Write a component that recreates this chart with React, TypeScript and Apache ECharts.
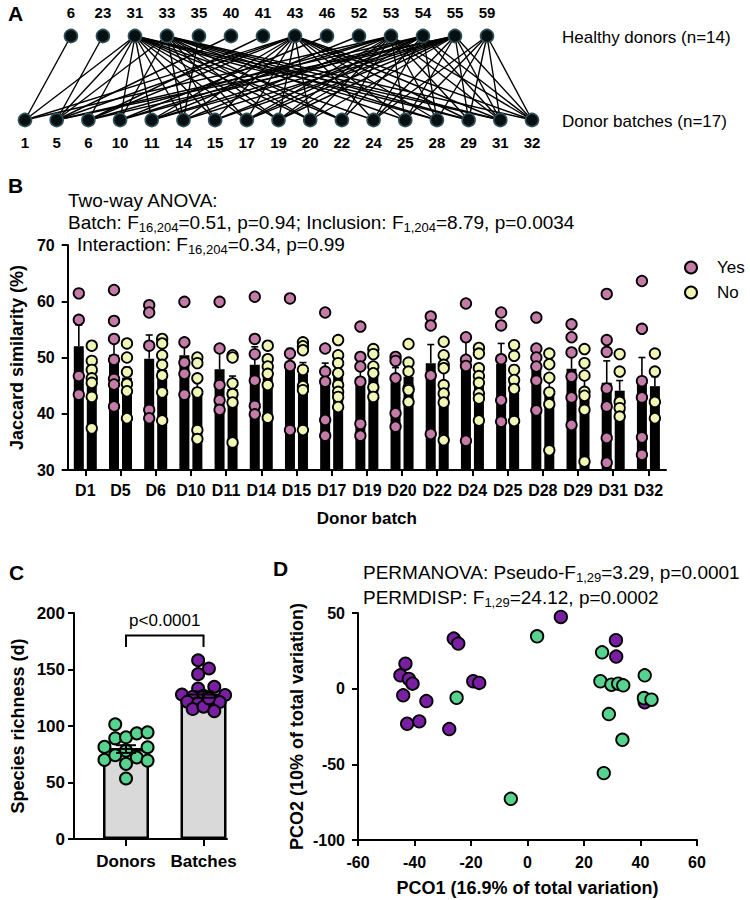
import React, { useEffect, useRef } from 'react';
import * as echarts from 'echarts';

const FONT = '"Liberation Sans", Arial, Helvetica, sans-serif';

// ---------- Panel A: donor / batch network ----------
const donorIds = ['6', '23', '31', '33', '35', '40', '41', '43', '46', '52', '53', '54', '55', '59'];
const batchIds = ['1', '5', '6', '10', '11', '14', '15', '17', '19', '20', '22', '24', '25', '28', '29', '31', '32'];
const batchLinks = [
  ['6', '31', '43', '53'],
  ['23', '31', '33', '40', '43', '54', '55'],
  ['31', '41', '43', '53', '55'],
  ['31', '33', '46', '53', '54'],
  ['31', '43', '52', '54', '55'],
  ['31', '33', '35', '43', '53', '55'],
  ['31', '33', '43', '54', '55'],
  ['31', '33', '43', '53', '54', '55'],
  ['31', '33', '43', '53', '54', '55'],
  ['31', '33', '43', '53', '55'],
  ['31', '33', '53', '54'],
  ['31', '43', '54', '55', '59'],
  ['33', '43', '53', '55', '59'],
  ['31', '33', '43', '53', '54', '59'],
  ['31', '33', '43', '53', '55', '59'],
  ['31', '33', '43', '53', '54', '55', '59'],
  ['33', '43', '53', '54', '55', '59'],
];

// ---------- Panel B: Jaccard similarity ----------
const batchLabels = ['D1', 'D5', 'D6', 'D10', 'D11', 'D14', 'D15', 'D17', 'D19', 'D20', 'D22', 'D24', 'D25', 'D28', 'D29', 'D31', 'D32'];
const yesMean = [52.0, 50.5, 49.8, 50.4, 47.9, 48.7, 49.2, 46.3, 45.7, 45.6, 49.0, 49.3, 48.9, 48.9, 48.0, 45.5, 46.0];
const yesSem = [3.8, 2.9, 4.2, 2.6, 3.9, 3.2, 2.4, 2.7, 3.0, 2.6, 3.3, 3.5, 3.6, 2.3, 2.6, 3.9, 4.0];
const noMean = [45.9, 46.4, 47.8, 43.6, 44.4, 46.9, 47.1, 46.6, 47.6, 46.6, 45.8, 46.0, 46.6, 44.2, 43.8, 44.1, 44.9];
const noSem = [1.6, 1.9, 1.9, 2.4, 2.3, 1.8, 2.0, 1.4, 1.3, 1.5, 2.0, 1.5, 2.0, 2.5, 2.4, 1.8, 1.7];
const yesPts = [
  [61.4, 56.7, 46.7, 43.4],
  [62.0, 56.5, 53.3, 49.6, 46.2, 45.2, 41.3],
  [59.3, 58.0, 52.1, 40.7, 39.2],
  [59.9, 52.7, 49.1, 47.1, 43.4],
  [59.9, 51.6, 45.1, 42.4, 40.7],
  [60.8, 53.3, 50.6, 45.9, 41.4, 39.9],
  [60.5, 50.7, 48.5, 37.1],
  [58.0, 51.6, 47.5, 45.7, 38.9, 36.1],
  [55.5, 50.1, 48.4, 45.7, 38.2, 36.1],
  [50.1, 49.4, 46.3, 40.1, 37.7],
  [57.3, 55.7, 46.8, 36.4],
  [59.6, 53.6, 49.6, 48.5, 35.2],
  [58.0, 55.7, 49.7, 42.4, 38.6],
  [57.1, 51.6, 50.0, 48.4, 45.9, 40.6],
  [55.9, 53.6, 50.9, 46.6, 42.9, 38.0],
  [61.3, 53.1, 51.0, 44.5, 41.3, 35.7, 31.3],
  [63.6, 55.1, 45.8, 42.9, 35.8, 32.7],
];
const noPts = [
  [52.1, 49.4, 47.8, 46.3, 45.5, 43.0, 37.4],
  [52.5, 50.0, 47.4, 45.3, 44.0, 39.2],
  [53.3, 52.5, 50.4, 48.7, 46.8, 43.8, 38.8],
  [50.0, 49.0, 46.3, 43.8, 37.1, 35.5],
  [50.4, 50.0, 45.4, 43.5, 42.0, 34.9],
  [52.1, 49.7, 48.4, 47.1, 45.1, 39.3],
  [52.7, 52.0, 51.3, 47.8, 44.9, 44.2, 37.1],
  [53.1, 50.4, 49.0, 47.2, 45.1, 43.9, 43.0, 41.2],
  [51.5, 50.6, 48.4, 47.2, 44.7, 43.0],
  [52.4, 49.1, 47.5, 44.5, 44.2, 42.1],
  [52.8, 50.4, 48.7, 48.1, 45.1, 43.6, 42.0, 35.3],
  [51.7, 50.7, 48.1, 46.7, 45.5, 43.6, 42.7, 38.8],
  [52.2, 50.3, 47.8, 46.0, 44.4, 38.7],
  [50.7, 48.8, 46.4, 43.8, 41.7, 33.5],
  [51.5, 49.0, 46.8, 43.9, 43.2, 40.7, 31.5],
  [50.6, 47.5, 42.1, 41.0, 39.5],
  [50.7, 47.5, 42.1, 39.2],
];
const bTicks = [30, 70, 10];

// ---------- Panel C: species richness ----------
const cCats = ['Donors', 'Batches'];
const cMean = [79.6, 127.8];
const cSem = [3.4, 2.8];
const donorRich = [101.5, 89.1, 90.0, 93.5, 94.4, 81.5, 78.2, 81.2, 70.0, 74.1, 72.1, 69.4, 66.5, 53.5];
const donorSlot = [-1, -1, 0, 1, 2, -2, 0, 2, -2, -1, 1, 2, 0, 0];
const batchRich = [158.2, 150.9, 145.9, 133.2, 134.7, 127.9, 125.9, 126.8, 127.4, 121.5, 120.0, 120.0, 121.2, 115.0, 117.1, 113.2, 124.5];
const batchSlot = [-0.5, 0.5, -0.5, -0.5, 1, -2, -1, 0, 2, -1.5, -0.5, 0.5, 1.5, -1, 0, 1, 0.5];
const cTest = 'p<0.0001';
const cBracket = [180, 170];

// ---------- Panel D: PCO ----------
const batchPCO1 = [11.8, -26.1, -24.5, 31.3, 31.4, -43.2, -45.0, -42.0, -40.7, -19.2, -17.1, -44.0, -35.8, -42.6, -38.3, -27.7, 41.5];
const batchPCO2 = [47.4, 33.1, 29.8, 32.0, 21.2, 16.5, 8.8, 6.4, 3.3, 4.9, 3.8, -4.4, -8.2, -23.2, -21.6, -26.7, -9.0];
const donorPCO1 = [3.4, 26.4, 25.8, 29.7, 32.1, 33.9, 41.5, 41.2, 43.9, 28.8, 33.6, 27.0, -5.9, -25.1];
const donorPCO2 = [34.6, 24.0, 4.9, 2.6, 3.3, 2.2, 8.8, -6.2, -7.3, -16.8, -33.8, -55.8, -72.8, -6.0];

const YES_C = '#c47ba7';
const NO_C = '#f1f6b4';
const GREEN = '#55d38f';
const PURPLE = '#7a1fa3';

const axisBase = (fs: number, margin: number) => ({
  axisLine: { show: true, onZero: false, lineStyle: { color: '#000', width: 2 } },
  axisTick: { show: true, length: 6, lineStyle: { color: '#000', width: 2 } },
  axisLabel: { color: '#000', fontFamily: FONT, fontWeight: 'bold', fontSize: fs, margin },
  splitLine: { show: false },
});

const hiddenAxis = (gridIndex: number, min: number, max: number) => ({
  type: 'value', gridIndex, min, max, show: false,
  axisLine: { onZero: false }, splitLine: { show: false },
});

function txt(text: string, x: number, y: number, fontSize: number, bold = false, rich?: any) {
  return {
    type: 'text', x, y, silent: true,
    style: {
      text, fontFamily: FONT, fontSize, fontWeight: bold ? 'bold' : 'normal', fill: '#000',
      textAlign: 'left', textVerticalAlign: 'middle', align: 'left', verticalAlign: 'middle',
      lineHeight: fontSize + 5,
      rich,
    },
  };
}

function buildOption() {
  const donorX = (i: number) => 1.45 + i * 1.01;
  const linkData = batchLinks.flatMap((ds, b) =>
    ds.map((d) => ({ coords: [[b, 0], [donorX(donorIds.indexOf(d)), 1]] })));
  const nodeStyle = { color: '#061013', borderColor: '#2f5157', borderWidth: 1.6, opacity: 1 };
  const nodeLabel = { show: true, formatter: '{b}', color: '#000', fontFamily: FONT, fontWeight: 'bold', fontSize: 15 };

  const off = 0.184;
  const dotStyle = (c: string) => ({ color: c, borderColor: '#000', borderWidth: 1.8, opacity: 1 });
  const errRender = (capHalf: number, both: boolean, lw: number) => (params: any, api: any) => {
    const x = api.value(0), m = api.value(1), e = api.value(2);
    const top = api.coord([x, m + e]);
    const bot = api.coord([x, both ? m - e : m]);
    const mid = api.coord([x, m]);
    const st = { stroke: '#000', lineWidth: lw };
    const children: any[] = [
      { type: 'line', shape: { x1: bot[0], y1: bot[1], x2: top[0], y2: top[1] }, style: st },
      { type: 'line', shape: { x1: top[0] - capHalf, y1: top[1], x2: top[0] + capHalf, y2: top[1] }, style: st },
    ];
    if (both) {
      children.push({ type: 'line', shape: { x1: bot[0] - capHalf, y1: bot[1], x2: bot[0] + capHalf, y2: bot[1] }, style: st });
      children.push({ type: 'line', shape: { x1: mid[0] - capHalf * 1.6, y1: mid[1], x2: mid[0] + capHalf * 1.6, y2: mid[1] }, style: st });
    }
    return { type: 'group', children };
  };

  const slotW = 0.139;
  const sub = { fontSize: 13, fontFamily: FONT, verticalAlign: 'bottom', lineHeight: 14, fill: '#000' };
  const rich = { s: sub };

  return {
    animation: false,
    backgroundColor: '#fff',
    textStyle: { fontFamily: FONT },
    grid: [
      { left: 25, top: 36, width: 507, height: 84 },
      { left: 66, top: 245, width: 600, height: 225 },
      { left: 74, top: 613, width: 153, height: 226 },
      { left: 358, top: 613, width: 339, height: 227 },
    ],
    xAxis: [
      hiddenAxis(0, 0, 16),
      {
        type: 'category', gridIndex: 1, data: batchLabels, ...axisBase(16, 12),
        axisTick: { show: true, alignWithLabel: true, length: 6, lineStyle: { color: '#000', width: 2 } },
        axisLabel: { color: '#000', fontFamily: FONT, fontWeight: 'bold', fontSize: 16, margin: 12, interval: 0 },
        name: 'Donor batch', nameLocation: 'middle', nameGap: 40,
        nameTextStyle: { color: '#000', fontFamily: FONT, fontWeight: 'bold', fontSize: 17 },
      },
      hiddenAxis(1, -0.5, 16.5),
      {
        type: 'value', gridIndex: 2, min: -0.671, max: 1.303, ...axisBase(17, 14),
        axisTick: { show: true, length: 7, customValues: [0, 1], lineStyle: { color: '#000', width: 2 } },
        axisLabel: {
          color: '#000', fontFamily: FONT, fontWeight: 'bold', fontSize: 17, margin: 14,
          customValues: [0, 1], formatter: (v: number) => cCats[Math.round(v)] ?? '',
        },
      },
      {
        type: 'value', gridIndex: 3, min: -60, max: 60, interval: 20, ...axisBase(16, 14),
        name: 'PCO1 (16.9% of total variation)', nameLocation: 'middle', nameGap: 39,
        nameTextStyle: { color: '#000', fontFamily: FONT, fontWeight: 'bold', fontSize: 18 },
      },
    ],
    yAxis: [
      hiddenAxis(0, 0, 1),
      {
        type: 'value', gridIndex: 1, min: bTicks[0], max: bTicks[1], interval: bTicks[2], ...axisBase(16, 13),
        name: 'Jaccard similarity (%)', nameLocation: 'middle', nameGap: 37,
        nameTextStyle: { color: '#000', fontFamily: FONT, fontWeight: 'bold', fontSize: 18 },
      },
      {
        type: 'value', gridIndex: 2, min: 0, max: 200, interval: 50, ...axisBase(17, 9),
        name: 'Species richness (d)', nameLocation: 'middle', nameGap: 47,
        nameTextStyle: { color: '#000', fontFamily: FONT, fontWeight: 'bold', fontSize: 18 },
      },
      {
        type: 'value', gridIndex: 3, min: -100, max: 50, interval: 50, ...axisBase(16, 13),
        name: 'PCO2 (10% of total variation)', nameLocation: 'middle', nameGap: 52,
        nameTextStyle: { color: '#000', fontFamily: FONT, fontWeight: 'bold', fontSize: 18 },
      },
    ],
    legend: {
      data: ['Yes', 'No'], orient: 'vertical', left: 679, top: 254, itemWidth: 24, itemHeight: 12, itemGap: 8,
      selectedMode: false,
      textStyle: { color: '#000', fontFamily: FONT, fontSize: 17, padding: [0, 0, 0, 9] },
    },
    graphic: [
      txt('A', 8, 13, 21, true),
      txt('B', 8, 185, 21, true),
      txt('C', 9, 572, 21, true),
      txt('D', 273, 568, 21, true),
      txt('Healthy donors (n=14)', 562, 37, 17),
      txt('Donor batches (n=17)', 562, 121, 17),
      txt('Two-way ANOVA:', 68, 200, 19),
      txt('Batch: F{s|16,204}=0.51, p=0.94; Inclusion: F{s|1,204}=8.79, p=0.0034', 68, 222, 19, false, rich),
      txt('Interaction: F{s|16,204}=0.34, p=0.99', 77, 244, 19, false, rich),
      txt('PERMANOVA: Pseudo-F{s|1,29}=3.29, p=0.0001', 363, 572, 19, false, rich),
      txt('PERMDISP: F{s|1,29}=24.12, p=0.0002', 363, 597, 19, false, rich),
    ],
    series: [
      // ---- A ----
      {
        type: 'lines', coordinateSystem: 'cartesian2d', xAxisIndex: 0, yAxisIndex: 0, silent: true, z: 1,
        data: linkData, lineStyle: { color: '#000', width: 1.4, opacity: 1, curveness: 0 },
      },
      {
        type: 'scatter', xAxisIndex: 0, yAxisIndex: 0, z: 3, symbolSize: 13, itemStyle: nodeStyle,
        label: { ...nodeLabel, position: 'top', distance: 9 },
        data: donorIds.map((id, i) => ({ name: id, value: [donorX(i), 1] })),
      },
      {
        type: 'scatter', xAxisIndex: 0, yAxisIndex: 0, z: 3, symbolSize: 13, itemStyle: nodeStyle,
        label: { ...nodeLabel, position: 'bottom', distance: 8 },
        data: batchIds.map((id, i) => ({ name: id, value: [i, 0] })),
      },
      // ---- B ----
      {
        type: 'bar', name: 'YesMean', xAxisIndex: 1, yAxisIndex: 1, data: yesMean, barWidth: 10, barGap: '30%',
        itemStyle: { color: '#000' }, z: 2,
      },
      {
        type: 'bar', name: 'NoMean', xAxisIndex: 1, yAxisIndex: 1, data: noMean, barWidth: 10, barGap: '30%',
        itemStyle: { color: '#000' }, z: 2,
      },
      {
        type: 'custom', xAxisIndex: 2, yAxisIndex: 1, z: 3, silent: true,
        renderItem: errRender(3.5, false, 1.6),
        data: [
          ...yesMean.map((m, i) => [i - off, m, yesSem[i]]),
          ...noMean.map((m, i) => [i + off, m, noSem[i]]),
        ],
      },
      {
        type: 'scatter', name: 'Yes', xAxisIndex: 2, yAxisIndex: 1, z: 4, symbolSize: 10.5,
        itemStyle: dotStyle(YES_C),
        data: yesPts.flatMap((arr, i) => arr.map((v) => [i - off, v])),
      },
      {
        type: 'scatter', name: 'No', xAxisIndex: 2, yAxisIndex: 1, z: 4, symbolSize: 10.5,
        itemStyle: dotStyle(NO_C),
        data: noPts.flatMap((arr, i) => arr.map((v) => [i + off, v])),
      },
      // ---- C ----
      {
        type: 'bar', xAxisIndex: 3, yAxisIndex: 2, barWidth: 46, z: 2,
        itemStyle: { color: '#d9d9d9', borderColor: '#000', borderWidth: 2.5 },
        data: cMean.map((m, i) => [i, m]),
      },
      {
        type: 'scatter', xAxisIndex: 3, yAxisIndex: 2, z: 4, symbolSize: 12,
        itemStyle: { color: GREEN, borderColor: '#000', borderWidth: 2, opacity: 1 },
        data: donorRich.map((v, i) => [donorSlot[i] * slotW, v]),
      },
      {
        type: 'scatter', xAxisIndex: 3, yAxisIndex: 2, z: 4, symbolSize: 12,
        itemStyle: { color: PURPLE, borderColor: '#000', borderWidth: 2, opacity: 1 },
        data: batchRich.map((v, i) => [1 + batchSlot[i] * slotW, v]),
      },
      {
        type: 'custom', xAxisIndex: 3, yAxisIndex: 2, z: 5, silent: true,
        renderItem: errRender(10, true, 2),
        data: cMean.map((m, i) => [i, m, cSem[i]]),
      },
      {
        type: 'custom', xAxisIndex: 3, yAxisIndex: 2, z: 5, silent: true,
        renderItem: (params: any, api: any) => {
          const a = api.coord([api.value(0), api.value(2)]);
          const b = api.coord([api.value(1), api.value(2)]);
          const la = api.coord([api.value(0), api.value(3)]);
          const lb = api.coord([api.value(1), api.value(3)]);
          return {
            type: 'group',
            children: [
              { type: 'polyline', shape: { points: [la, a, b, lb] }, style: { stroke: '#000', lineWidth: 2, fill: 'none' } },
              {
                type: 'text', x: (a[0] + b[0]) / 2, y: a[1] - 7,
                style: {
                  text: cTest, fontFamily: FONT, fontSize: 17, fill: '#000',
                  textAlign: 'center', textVerticalAlign: 'bottom', align: 'center', verticalAlign: 'bottom',
                },
              },
            ],
          };
        },
        data: [[0, 1, cBracket[0], cBracket[1]]],
      },
      // ---- D ----
      {
        type: 'scatter', xAxisIndex: 4, yAxisIndex: 3, z: 3, symbolSize: 12.5,
        itemStyle: { color: PURPLE, borderColor: '#000', borderWidth: 1.8, opacity: 1 },
        data: batchPCO1.map((x, i) => [x, batchPCO2[i]]),
      },
      {
        type: 'scatter', xAxisIndex: 4, yAxisIndex: 3, z: 4, symbolSize: 12.5,
        itemStyle: { color: GREEN, borderColor: '#000', borderWidth: 1.8, opacity: 1 },
        data: donorPCO1.map((x, i) => [x, donorPCO2[i]]),
      },
    ],
  };
}

export default function App() {
  const ref = useRef<HTMLDivElement>(null);
  useEffect(() => {
    if (!ref.current) return;
    const chart = echarts.init(ref.current, null, { renderer: 'svg' });
    chart.setOption(buildOption() as any);
    return () => chart.dispose();
  }, []);
  return (
    <div
      ref={ref}
      style={{ position: 'fixed', left: 0, top: 0, width: 750, height: 900, background: '#fff' }}
    />
  );
}
